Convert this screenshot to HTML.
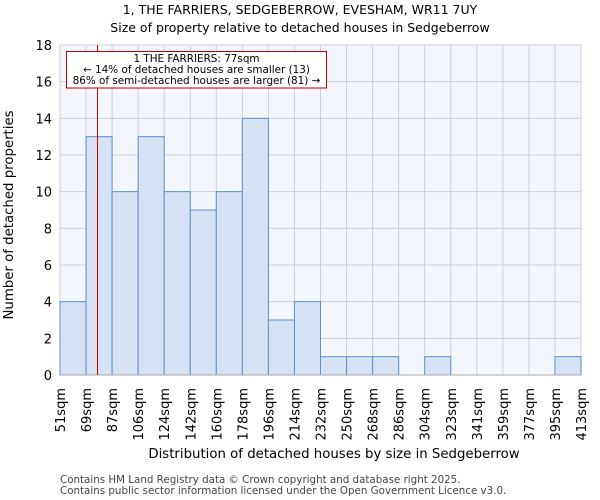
<!DOCTYPE html>
<html><head><meta charset="utf-8"><style>
body{margin:0;background:#fff;}
svg{display:block;font-family:"DejaVu Sans","Liberation Sans",sans-serif;}
</style></head><body>
<svg id="chart" width="600" height="500">
<text x="300" y="14" text-anchor="middle" font-size="12.5">1, THE FARRIERS, SEDGEBERROW, EVESHAM, WR11 7UY</text>
<text x="300" y="32" text-anchor="middle" font-size="12.5">Size of property relative to detached houses in Sedgeberrow</text>
<rect x="60" y="45" width="521" height="330" fill="#f3f6fd"/>
<g id="grid"></g><g id="bars"></g><g id="axes"></g>
<text x="334" y="458" text-anchor="middle" font-size="13.3">Distribution of detached houses by size in Sedgeberrow</text>
<text transform="translate(13,215) rotate(-90)" text-anchor="middle" font-size="13.3">Number of detached properties</text>
<text x="60" y="483" font-size="10.3" fill="#444">Contains HM Land Registry data © Crown copyright and database right 2025.</text>
<text x="60" y="494" font-size="10.3" fill="#444">Contains public sector information licensed under the Open Government Licence v3.0.</text>
</svg>
<script>
const binLabels=["51sqm","69sqm","87sqm","106sqm","124sqm","142sqm","160sqm","178sqm","196sqm","214sqm","232sqm","250sqm","268sqm","286sqm","304sqm","323sqm","341sqm","359sqm","377sqm","395sqm","413sqm"];
const counts=[4,13,10,13,10,9,10,14,3,4,1,1,1,0,1,0,0,0,0,1];
const yTicks=[0,2,4,6,8,10,12,14,16,18];
const propertyBinPos=[1.44];
const ns="http://www.w3.org/2000/svg";
const L=60,R=581,T=45,B=375,yMax=18;
const bw=(R-L)/counts.length;
const xs=i=>L+i*bw;
const ys=v=>B-v/yMax*(B-T);
function mk(tag,attrs,parent,text){const e=document.createElementNS(ns,tag);for(const k in attrs)e.setAttribute(k,attrs[k]);if(text!==undefined)e.textContent=text;parent.appendChild(e);return e;}
const grid=document.getElementById('grid'),bars=document.getElementById('bars'),axes=document.getElementById('axes');
yTicks.forEach(t=>{
 const g=mk('line',{x1:L,x2:R,y1:ys(t),y2:ys(t),stroke:'#d0d0d0','stroke-width':1},grid);
 
 
 const tx=mk('text',{x:L-8,y:ys(t)+5,'text-anchor':'end','font-size':13},axes,String(t));
 
 
});
binLabels.forEach((lab,i)=>{
 const g=mk('line',{x1:xs(i),x2:xs(i),y1:T,y2:B,stroke:'#d0d0d0','stroke-width':1},grid);
 
 
 const tx=mk('text',{transform:`translate(${xs(i)+5},388) rotate(-90)`,'text-anchor':'end','font-size':13},axes,lab);
 
 
});
counts.forEach((c,i)=>{
 if(c<=0)return;
 const r=mk('rect',{x:xs(i),y:ys(c),width:bw,height:B-ys(c),fill:'#d6e2f4',stroke:'#5b8fd6','stroke-width':1},bars);
 
 
});
const base=mk('line',{x1:L,x2:R,y1:B,y2:B,stroke:'#aaa'},axes);


const mx=xs(propertyBinPos[0]);
const ml=mk('line',{x1:mx,x2:mx,y1:T,y2:B,stroke:'#d00000','stroke-width':1},axes);


const box=mk('rect',{x:66.5,y:51.5,width:260,height:36.5,fill:'#fff',stroke:'#c00000','stroke-width':1},axes);


["1 THE FARRIERS: 77sqm","← 14% of detached houses are smaller (13)","86% of semi-detached houses are larger (81) →"].forEach((s,k)=>{
 const t=mk('text',{x:196.5,y:62+k*11,'text-anchor':'middle','font-size':10.4},axes,s);
 
 
});
</script>
</body></html>
